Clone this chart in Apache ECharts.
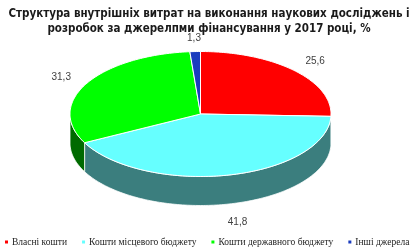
<!DOCTYPE html>
<html>
<head>
<meta charset="utf-8">
<script src="https://cdn.jsdelivr.net/npm/echarts@6/dist/echarts.min.js"></script>
<style>html,body{margin:0;padding:0;background:#fff;}#c{width:418px;height:252px;}</style>
</head>
<body>
<div id="c"></div>
<script>
const categories = ['Власні кошти', 'Кошти місцевого бюджету', 'Кошти державного бюджету', 'Інші джерела'];
const values = [25.6, 41.8, 31.3, 1.3];
const valueLabels = ['25,6', '41,8', '31,3', '1,3'];
const topColors = ['#FF0000', '#66FFFF', '#00FF00', '#1A3CBE'];
const sideColors = ['#A00000', '#3B7E7E', '#006A00', '#10266F'];
const titleText = 'Структура внутрішніх витрат на виконання наукових досліджень і\nрозробок за джерелпми фінансування у 2017 році, %';

const total = values.reduce((a, b) => a + b, 0);
const geo = { cx: 200.5, cy: 114, rx: 130.5, ry: 62.5, depth: 29, labelTop: 1.22, labelBottom: 1.3 };

function pt(t, dy) {
  return [geo.cx + geo.rx * Math.sin(t), geo.cy - geo.ry * Math.cos(t) + (dy || 0)];
}
function arcPts(a0, a1, dy) {
  const pts = [];
  const n = Math.max(2, Math.ceil((a1 - a0) / 0.02));
  for (let k = 0; k <= n; k++) pts.push(pt(a0 + (a1 - a0) * k / n, dy));
  return pts;
}

function makeRender(i) {
  return function (params, api) {
    const v = api.value(0);
    let before = 0;
    for (let j = 0; j < i; j++) before += values[j];
    const a0 = before / total * Math.PI * 2;
    const a1 = (before + v) / total * Math.PI * 2;
    const children = [];
    const lo = Math.max(a0, Math.PI / 2), hi = Math.min(a1, Math.PI * 1.5);
    if (hi > lo) {
      const sidePts = arcPts(lo, hi, 0).concat(arcPts(lo, hi, geo.depth).reverse());
      children.push({
        type: 'polygon', z2: 1,
        shape: { points: sidePts },
        style: { fill: sideColors[i], stroke: '#ffffff', lineWidth: 0.8 }
      });
    }
    const topPts = [[geo.cx, geo.cy]].concat(arcPts(a0, a1, 0));
    children.push({
      type: 'polygon', z2: 10,
      shape: { points: topPts },
      style: { fill: topColors[i], stroke: '#ffffff', lineWidth: 1 }
    });
    const mid = (a0 + a1) / 2;
    const bottom = Math.cos(mid) < 0;
    const k = bottom ? geo.labelBottom : geo.labelTop;
    const lx = geo.cx + geo.rx * k * Math.sin(mid);
    let ly = geo.cy - geo.ry * k * Math.cos(mid);
    if (bottom) ly += geo.depth;
    children.push({
      type: 'text', z2: 20,
      style: {
        x: lx, y: ly, text: valueLabels[i],
        fill: '#404040', font: '10px "Liberation Sans"',
        align: 'center', verticalAlign: 'middle'
      }
    });
    return { type: 'group', children: children };
  };
}

const chart = echarts.init(document.getElementById('c'), null, { renderer: 'canvas' });
chart.setOption({
  animation: false,
  color: topColors,
  title: {
    text: titleText,
    left: 'center', top: 2,
    textStyle: { fontSize: 11.5, fontWeight: 'bold', lineHeight: 15, color: '#1a1a1a', fontFamily: '"Liberation Sans Narrow", "DejaVu Sans Condensed", sans-serif' }
  },
  legend: {
    data: categories,
    left: 0, top: 232,
    icon: 'rect', itemWidth: 3, itemHeight: 3, itemGap: 15,
    textStyle: { fontSize: 9.5, color: '#222', fontFamily: '"Liberation Serif", serif', padding: [0, 0, 0, -1] }
  },
  series: categories.map((name, i) => ({
    type: 'custom',
    name: name,
    coordinateSystem: 'none',
    itemStyle: { color: topColors[i] },
    data: [[values[i]]],
    renderItem: makeRender(i)
  }))
});
</script>
</body>
</html>
